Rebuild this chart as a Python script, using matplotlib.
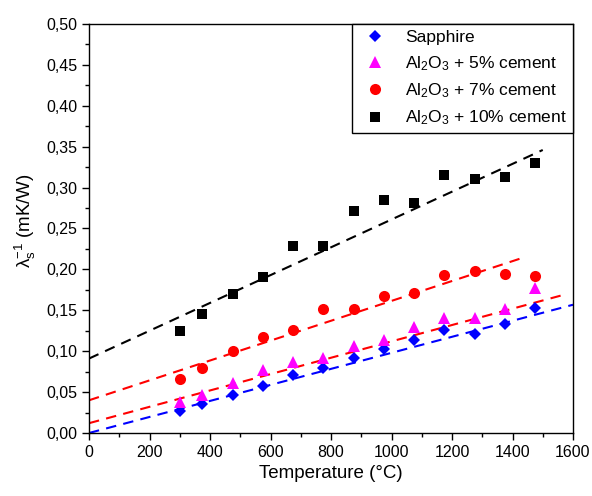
import matplotlib
matplotlib.use("Agg")
import matplotlib.pyplot as plt
import numpy as np
from matplotlib.ticker import MultipleLocator, FuncFormatter

plt.rcParams['font.family'] = ['Liberation Sans', 'DejaVu Sans']
plt.rcParams['mathtext.fontset'] = 'custom'
plt.rcParams['mathtext.rm'] = 'Liberation Sans'
plt.rcParams['mathtext.it'] = 'Liberation Sans:italic'

temps = [300, 375, 475, 575, 675, 775, 875, 975, 1075, 1175, 1275, 1375, 1475]
sapphire = [0.027, 0.036, 0.047, 0.058, 0.071, 0.079, 0.092, 0.103, 0.114, 0.126, 0.121, 0.133, 0.153]
cement5 = [0.038, 0.047, 0.061, 0.077, 0.087, 0.092, 0.106, 0.114, 0.130, 0.140, 0.140, 0.152, 0.177]
cement7 = [0.066, 0.080, 0.100, 0.117, 0.126, 0.151, 0.151, 0.167, 0.171, 0.193, 0.198, 0.194, 0.192]
cement10 = [0.125, 0.146, 0.170, 0.191, 0.229, 0.228, 0.272, 0.285, 0.281, 0.316, 0.311, 0.313, 0.330]

# linear fit lines: intercept, slope, x-extent
fit_intercepts = [0.000, 0.012, 0.040, 0.091]
fit_slopes = [0.98e-4, 1.00e-4, 1.215e-4, 1.70e-4]
fit_xmax = [1600, 1570, 1440, 1500]

labels = ['Sapphire', r'$\mathregular{Al_2O_3}$ + 5% cement',
          r'$\mathregular{Al_2O_3}$ + 7% cement', r'$\mathregular{Al_2O_3}$ + 10% cement']
colors = ['#0000ff', '#ff00ff', '#ff0000', '#000000']
markers = ['D', '^', 'o', 's']
msizes = [6.5, 8, 8, 7]
series = [sapphire, cement5, cement7, cement10]
fit_colors = ['#0000ff', '#ff0000', '#ff0000', '#000000']

fig = plt.figure(figsize=(5.92, 4.96), dpi=100)
ax = fig.add_axes([89/592, 1-433/496, (573-89)/592, (433-24)/496])

for b, m, xm, c in zip(fit_intercepts, fit_slopes, fit_xmax, fit_colors):
    xs = np.array([0, xm])
    ax.plot(xs, b + m * xs, linestyle=(0, (5, 3.5)), color=c, lw=1.5, zorder=2)

for y, lab, c, mk, ms in zip(series, labels, colors, markers, msizes):
    ax.plot(temps, y, linestyle='none', marker=mk, color=c, markersize=ms,
            markeredgewidth=0, label=lab, zorder=3)

ax.set_xlim(0, 1600)
ax.set_ylim(0, 0.5)
ax.xaxis.set_major_locator(MultipleLocator(200))
ax.xaxis.set_minor_locator(MultipleLocator(100))
ax.yaxis.set_major_locator(MultipleLocator(0.05))
ax.yaxis.set_minor_locator(MultipleLocator(0.025))
ax.yaxis.set_major_formatter(FuncFormatter(lambda v, p: f"{v:.2f}".replace('.', ',')))
ax.tick_params(which='both', direction='out', top=False, right=False, labelsize=11.5)
ax.tick_params(which='major', length=5, width=1)
ax.tick_params(which='minor', length=3, width=1)
for s in ax.spines.values():
    s.set_linewidth(1)

ax.set_xlabel('Temperature (°C)', fontsize=13.5)
ax.set_ylabel(r'$\mathregular{\lambda_s^{-1}}$ (mK/W)', fontsize=13.5, labelpad=6)
ax.yaxis.label.set_y(0.52)

leg = ax.legend(loc='upper right', fontsize=12.5, frameon=True, fancybox=False,
                edgecolor='black', framealpha=1, borderaxespad=0, handletextpad=0.7,
                borderpad=0.35, labelspacing=0.5, handlelength=2.0)
leg.get_frame().set_linewidth(1)

fig.savefig('out.png', dpi=100)
